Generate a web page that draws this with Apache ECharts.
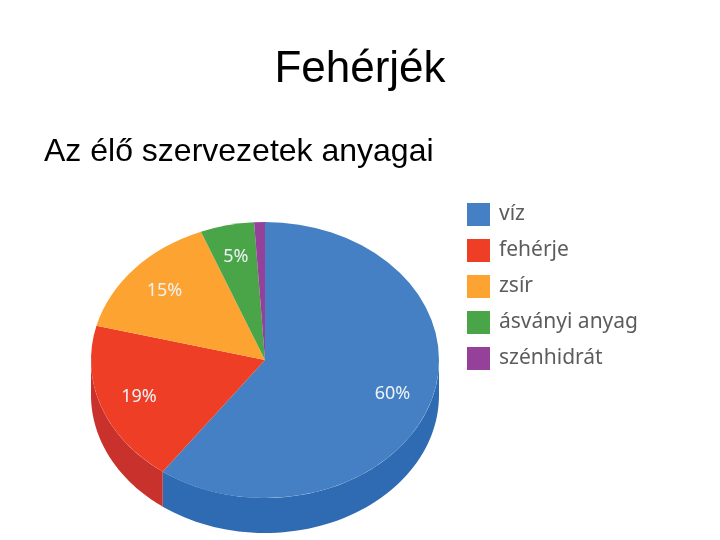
<!DOCTYPE html>
<html>
<head>
<meta charset="utf-8">
<style>html,body{margin:0;padding:0;background:#fff}#c{width:720px;height:540px}</style>
<script src="https://cdn.jsdelivr.net/npm/echarts@6/dist/echarts.min.js"></script>
</head>
<body>
<div id="c"></div>
<script>
const categories = ['víz', 'fehérje', 'zsír', 'ásványi anyag', 'szénhidrát'];
const values = [60, 19, 15, 5, 1];
const labels = ['60%', '19%', '15%', '5%', ''];
const colors = ['#4580c4', '#ee3e26', '#fda332', '#4aa548', '#95419a'];
const sideColors = ['#2f6bb2', '#c9322c', '#d08a2a', '#3b8a3a', '#7a3580'];

const CX = 265, CY = 360, RX = 174, RY = 138, DEPTH = 35;
const total = values.reduce((a, b) => a + b, 0);
const TOP = -Math.PI / 2;

function makeRender(i) {
  const before = values.slice(0, i).reduce((a, b) => a + b, 0);
  return function (params, api) {
    const a0 = TOP + before / total * Math.PI * 2;
    const a1 = a0 + api.value(0) / total * Math.PI * 2;
    const children = [];
    // side wall: only the part of the slice that faces the viewer (0..PI)
    const s = Math.max(a0, 0), e = Math.min(a1, Math.PI);
    if (e > s) {
      const upper = [], lower = [];
      for (let k = 0; k <= 60; k++) {
        const a = s + (e - s) * k / 60;
        upper.push([CX + RX * Math.cos(a), CY + RY * Math.sin(a)]);
        lower.unshift([CX + RX * Math.cos(a), CY + DEPTH + RY * Math.sin(a)]);
      }
      children.push({
        type: 'polygon',
        shape: { points: upper.concat(lower) },
        style: { fill: sideColors[i] }
      });
    }
    children.push({
      type: 'sector',
      x: CX, y: CY, scaleY: RY / RX,
      shape: { cx: 0, cy: 0, r0: 0, r: RX, startAngle: a0, endAngle: a1, clockwise: true },
      style: { fill: colors[i] }
    });
    const mid = (a0 + a1) / 2;
    if (labels[i]) {
      children.push({
        type: 'text',
        x: CX + RX * 0.77 * Math.cos(mid),
        y: CY + RY * 0.77 * Math.sin(mid) + 1,
        z2: 10,
        style: {
          text: labels[i], fill: '#eef2f6', align: 'center', verticalAlign: 'middle',
          font: '18px "Noto Sans"'
        }
      });
    }
    return { type: 'group', children };
  };
}

const chart = echarts.init(document.getElementById('c'), null, { renderer: 'canvas' });
chart.setOption({
  animation: false,
  backgroundColor: '#fff',
  title: [
    { text: 'Fehérjék', left: 355, top: 43, textAlign: 'center',
      textStyle: { fontFamily: 'Liberation Sans', fontSize: 44, fontWeight: 'normal', color: '#000' } },
    { text: 'Az élő szervezetek anyagai', left: 39, top: 131,
      textStyle: { fontFamily: 'Liberation Sans', fontSize: 32, fontWeight: 'normal', color: '#000' } }
  ],
  legend: {
    orient: 'vertical', left: 462, top: 198, itemWidth: 23, itemHeight: 23, itemGap: 13,
    selectedMode: false, icon: 'rect', data: categories,
    textStyle: { fontFamily: 'Noto Sans', fontSize: 21, color: '#5c5c5c', padding: [3, 0, 0, 4] }
  },
  series: categories.map((name, i) => ({
    type: 'custom', name, coordinateSystem: 'none', silent: true,
    itemStyle: { color: colors[i] },
    data: [[values[i]]],
    encode: { value: 0 },
    renderItem: makeRender(i)
  }))
});
</script>
</body>
</html>
